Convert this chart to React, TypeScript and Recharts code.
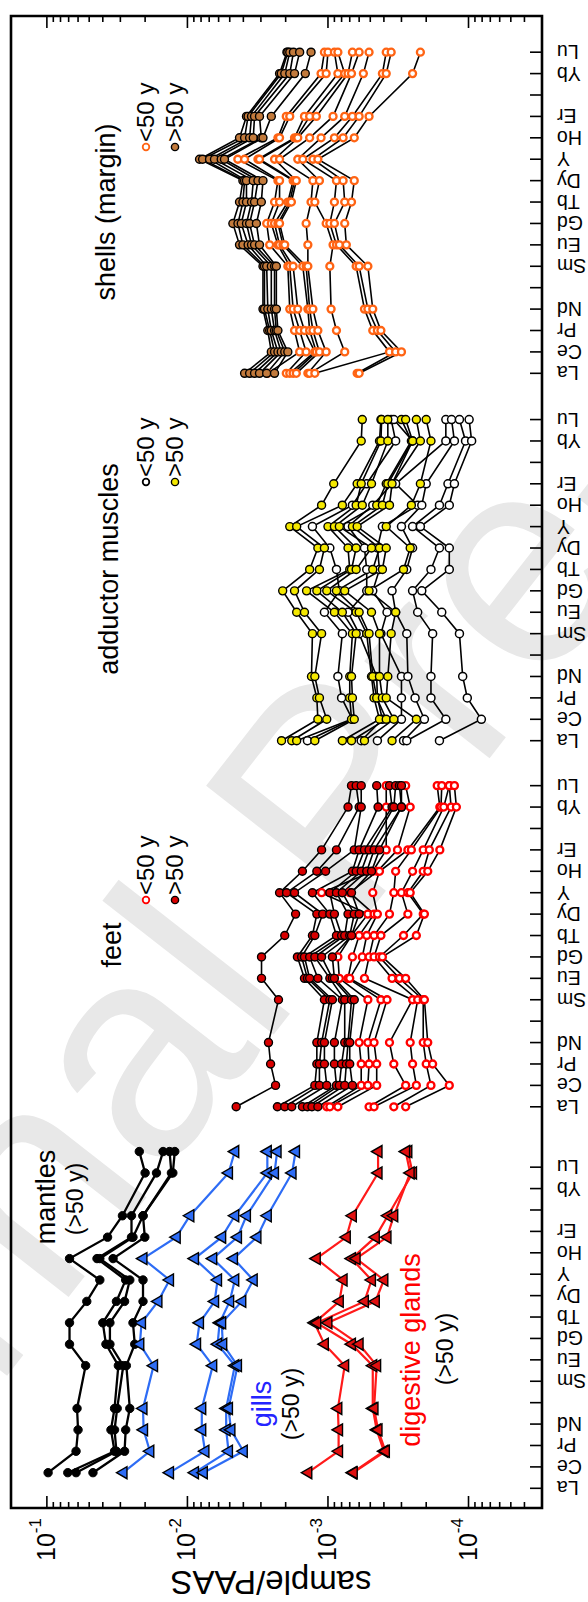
import React from 'react';
import { LineChart, Line, XAxis, YAxis, ReferenceArea } from 'recharts';

// The figure is an ordinary REE pattern plot turned a quarter turn
// counter-clockwise. It is drawn upright (1602 x 588) and the box is rotated.
const CHART_W = 1602;
const CHART_H = 588;
const FONT = '"Liberation Sans", Arial, Helvetica, sans-serif';

const elements = ['La', 'Ce', 'Pr', 'Nd', 'Pm', 'Sm', 'Eu', 'Gd', 'Tb', 'Dy', 'Y', 'Ho', 'Er', 'Tm', 'Yb', 'Lu'];
const measured = ['La', 'Ce', 'Pr', 'Nd', 'Sm', 'Eu', 'Gd', 'Tb', 'Dy', 'Y', 'Ho', 'Er', 'Yb', 'Lu'];

// x position of each panel's La tick (one unit per element slot)
const panelTicks = [0.92, 18.74, 35.84, 53.0];
// the first panel's points sit a bit right of its ticks
const panelData = [1.65, 18.74, 35.84, 53.0];
const xMax = 69.69;

const yDomain = [3e-5, 0.18];
const yMajor = [1e-1, 1e-2, 1e-3, 1e-4];
const yMajorExp = ['-1', '-2', '-3', '-4'];
const yMinor = [
  0.09, 0.08, 0.07, 0.06, 0.05, 0.04, 0.03, 0.02,
  0.009, 0.008, 0.007, 0.006, 0.005, 0.004, 0.003, 0.002,
  9e-4, 8e-4, 7e-4, 6e-4, 5e-4, 4e-4, 3e-4, 2e-4,
  9e-5, 8e-5, 7e-5, 6e-5, 5e-5, 4e-5,
];

// ---- values, in the order of `measured` ----
const mantles = [
  [0.098, 0.062, 0.06, 0.061, 0.053, 0.069, 0.069, 0.052, 0.042, 0.069, 0.037, 0.029, 0.02, 0.022],
  [0.071, 0.033, 0.035, 0.033, 0.031, 0.038, 0.04, 0.032, 0.0275, 0.044, 0.025, 0.025, 0.0166, 0.0149],
  [0.062, 0.032, 0.033, 0.0316, 0.0286, 0.0356, 0.0356, 0.028, 0.0257, 0.042, 0.0244, 0.0207, 0.013, 0.0134],
  [0.047, 0.028, 0.0275, 0.0257, 0.0272, 0.0237, 0.0244, 0.0207, 0.0207, 0.0338, 0.0201, 0.0207, 0.0127, 0.0123],
];
const gills = [
  [0.0287, 0.0185, 0.0205, 0.0207, 0.0174, 0.0218, 0.0212, 0.0162, 0.0134, 0.0207, 0.012, 0.0096, 0.0051, 0.0046],
  [0.0134, 0.0075, 0.0079, 0.0079, 0.0066, 0.0086, 0.0082, 0.0064, 0.0061, 0.0089, 0.0057, 0.0046, 0.0027, 0.0027],
  [0.0089, 0.0051, 0.0053, 0.0053, 0.0046, 0.0061, 0.0059, 0.005, 0.0046, 0.0066, 0.0044, 0.0038, 0.0024, 0.0023],
  [0.0077, 0.004, 0.0049, 0.0051, 0.0044, 0.0056, 0.0057, 0.0041, 0.0034, 0.0047, 0.0032, 0.0027, 0.0018, 0.0017],
];
const digestiveGlands = [
  [1.39e-3, 8.4e-4, 8.4e-4, 8.5e-4, 7.6e-4, 1.06e-3, 1.25e-3, 8.3e-4, 7.8e-4, 1.21e-3, 7.4e-4, 6.7e-4, 4.4e-4, 4.4e-4],
  [6.7e-4, 4.0e-4, 4.5e-4, 4.8e-4, 4.8e-4, 6.8e-4, 1.2e-3, 5.5e-4, 4.9e-4, 6.8e-4, 4.6e-4, 3.75e-4, 2.5e-4, 2.7e-4],
  [6.6e-4, 3.9e-4, 4.4e-4, 4.7e-4, 4.5e-4, 6.0e-4, 1.0e-3, 4.6e-4, 4.0e-4, 6.3e-4, 3.8e-4, 3.4e-4, 2.6e-4, 2.8e-4],
];
const feetOld = [
  [4.5e-3, 2.36e-3, 2.56e-3, 2.65e-3, 2.25e-3, 2.97e-3, 2.97e-3, 2.03e-3, 1.7e-3, 2.21e-3, 1.52e-3, 1.11e-3, 7.2e-4, 6.8e-4],
  [2.29e-3, 1.24e-3, 1.2e-3, 1.2e-3, 1.06e-3, 1.47e-3, 1.65e-3, 1.29e-3, 1.2e-3, 1.97e-3, 1.2e-3, 8.7e-4, 6.0e-4, 6.3e-4],
  [2.03e-3, 1.15e-3, 1.15e-3, 1.11e-3, 9.7e-4, 1.4e-3, 1.54e-3, 1.24e-3, 1.09e-3, 1.73e-3, 1.04e-3, 6.5e-4, 5.8e-4, 5.8e-4],
  [1.81e-3, 1.02e-3, 1.06e-3, 1.06e-3, 9.3e-4, 1.35e-3, 1.47e-3, 8.7e-4, 9.7e-4, 1.29e-3, 6.7e-4, 6.0e-4, 4.4e-4, 4.5e-4],
  [1.52e-3, 8.7e-4, 9.0e-4, 9.0e-4, 7.9e-4, 1.18e-3, 1.35e-3, 8.0e-4, 9.0e-4, 9.7e-4, 6.3e-4, 5.5e-4, 3.5e-4, 3.65e-4],
  [1.4e-3, 8.3e-4, 8.0e-4, 7.6e-4, 7.6e-4, 9.7e-4, 1.24e-3, 7.6e-4, 7.2e-4, 8.7e-4, 5.8e-4, 5.1e-4, 3.4e-4, 3.3e-4],
  [1.3e-3, 7.6e-4, 7.4e-4, 7.2e-4, 6.8e-4, 9.3e-4, 1.11e-3, 7.0e-4, 6.5e-4, 7.9e-4, 5.3e-4, 4.7e-4, 3.0e-4, 3.1e-4],
  [1.18e-3, 6.7e-4, 7.0e-4, 7.0e-4, 6.5e-4, 9.0e-4, 9.3e-4, 6.8e-4, 6.0e-4, 6.8e-4, 4.9e-4, 4.3e-4, 3.0e-4, 3.0e-4],
];
const feetYoung = [
  [1.02e-3, 5.8e-4, 5.8e-4, 6.0e-4, 5.2e-4, 8.3e-4, 8.5e-4, 6.8e-4, 5.2e-4, 1.11e-3, 4.8e-4, 3.85e-4, 3.85e-4, 3.85e-4],
  [9.7e-4, 5.2e-4, 5.1e-4, 5.2e-4, 4.2e-4, 7.2e-4, 6.7e-4, 6.0e-4, 4.7e-4, 7.0e-4, 4.45e-4, 3.2e-4, 2.6e-4, 2.8e-4],
  [8.5e-4, 4.5e-4, 4.5e-4, 4.7e-4, 3.8e-4, 7.0e-4, 5.7e-4, 5.3e-4, 4.45e-4, 4.8e-4, 4.3e-4, 2.7e-4, 1.6e-4, 1.67e-4],
  [5.1e-4, 2.8e-4, 3.4e-4, 3.65e-4, 2.5e-4, 5.5e-4, 5.1e-4, 4.7e-4, 3.65e-4, 3.4e-4, 3.3e-4, 2.55e-4, 1.57e-4, 1.55e-4],
  [4.7e-4, 2.35e-4, 2.5e-4, 2.6e-4, 2.3e-4, 3.5e-4, 4.7e-4, 4.2e-4, 2.7e-4, 3.0e-4, 2.5e-4, 2.1e-4, 1.5e-4, 1.37e-4],
  [3.4e-4, 1.85e-4, 2.0e-4, 2.1e-4, 2.1e-4, 3.1e-4, 4.3e-4, 2.9e-4, 2.1e-4, 2.7e-4, 2.1e-4, 1.9e-4, 1.33e-4, 1.37e-4],
  [2.8e-4, 1.37e-4, 1.8e-4, 1.95e-4, 2.06e-4, 2.8e-4, 4.1e-4, 2.35e-4, 2.06e-4, 2.6e-4, 1.95e-4, 1.6e-4, 1.22e-4, 1.26e-4],
];
const adductorOld = [
  [2.14e-3, 1.18e-3, 1.2e-3, 1.31e-3, 1.29e-3, 1.67e-3, 2.1e-3, 1.35e-3, 1.18e-3, 1.87e-3, 1.11e-3, 9.1e-4, 5.8e-4, 5.7e-4],
  [1.81e-3, 1.02e-3, 1.15e-3, 1.24e-3, 1.11e-3, 1.47e-3, 1.73e-3, 1.15e-3, 1.06e-3, 1.67e-3, 7.9e-4, 6.2e-4, 4.3e-4, 4.2e-4],
  [1.67e-3, 6.8e-4, 7.0e-4, 7.0e-4, 6.7e-4, 9.0e-4, 1.42e-3, 7.0e-4, 7.2e-4, 1.0e-3, 6.3e-4, 5.8e-4, 4.2e-4, 4.15e-4],
  [1.24e-3, 6.5e-4, 6.7e-4, 6.8e-4, 6.3e-4, 7.9e-4, 1.2e-3, 6.8e-4, 6.3e-4, 9.0e-4, 5.7e-4, 4.9e-4, 3.75e-4, 3.75e-4],
  [7.9e-4, 4.3e-4, 4.7e-4, 4.9e-4, 5.3e-4, 6.3e-4, 1.02e-3, 6.3e-4, 4.9e-4, 8.3e-4, 4.5e-4, 3.85e-4, 2.55e-4, 3.0e-4],
  [6.8e-4, 3.85e-4, 4.5e-4, 4.8e-4, 5.1e-4, 6.0e-4, 8.7e-4, 4.8e-4, 4.3e-4, 6.7e-4, 4.1e-4, 3.75e-4, 2.5e-4, 2.8e-4],
  [5.5e-4, 3.4e-4, 4.1e-4, 4.3e-4, 4.3e-4, 4.9e-4, 7.6e-4, 4.1e-4, 3.85e-4, 6.2e-4, 3.65e-4, 3.5e-4, 2.2e-4, 2.35e-4],
  [3.5e-4, 2.35e-4, 3.85e-4, 3.75e-4, 3.55e-4, 3.3e-4, 5.1e-4, 2.9e-4, 2.6e-4, 3.85e-4, 2.55e-4, 2.2e-4, 1.85e-4, 2.0e-4],
];
const adductorYoung = [
  [1.4e-3, 6.7e-4, 8.0e-4, 8.5e-4, 7.9e-4, 1.06e-3, 8.3e-4, 8.7e-4, 9.7e-4, 1.29e-3, 6.7e-4, 5.3e-4, 3.3e-4, 3.55e-4],
  [5.8e-4, 4.1e-4, 4.45e-4, 4.5e-4, 6.0e-4, 7.2e-4, 5.3e-4, 5.3e-4, 5.5e-4, 7.2e-4, 4.8e-4, 3.5e-4, 2.5e-4, 3.4e-4],
  [4.45e-4, 3.0e-4, 3.0e-4, 3.0e-4, 4.2e-4, 3.8e-4, 4.8e-4, 4.3e-4, 4.45e-4, 4.1e-4, 2.3e-4, 3.3e-4, 1.45e-4, 1.45e-4],
  [2.9e-4, 2.06e-4, 2.4e-4, 2.7e-4, 2.75e-4, 3.3e-4, 3.5e-4, 2.75e-4, 2.5e-4, 3.0e-4, 2.15e-4, 2.0e-4, 1.26e-4, 1.32e-4],
  [2.75e-4, 1.45e-4, 1.85e-4, 1.85e-4, 1.8e-4, 2.3e-4, 2.5e-4, 1.85e-4, 1.61e-4, 2.5e-4, 1.61e-4, 1.4e-4, 1.05e-4, 1.16e-4],
  [1.61e-4, 8.1e-5, 1.02e-4, 1.1e-4, 1.16e-4, 1.55e-4, 2.15e-4, 1.37e-4, 1.37e-4, 2.2e-4, 1.37e-4, 1.26e-4, 9.5e-5, 9.9e-5],
];
const shellsOld = [
  [3.92e-3, 2.53e-3, 2.68e-3, 2.9e-3, 2.9e-3, 4.26e-3, 4.75e-3, 4.26e-3, 4.03e-3, 8.2e-3, 4.26e-3, 3.8e-3, 2.21e-3, 1.96e-3],
  [3.61e-3, 2.4e-3, 2.6e-3, 2.83e-3, 2.83e-3, 4.03e-3, 4.37e-3, 4.03e-3, 3.92e-3, 7.8e-3, 3.92e-3, 3.7e-3, 2.15e-3, 1.93e-3],
  [3.33e-3, 2.27e-3, 2.53e-3, 2.68e-3, 2.73e-3, 3.7e-3, 4.14e-3, 3.8e-3, 3.8e-3, 6.96e-3, 3.61e-3, 3.5e-3, 2.03e-3, 1.87e-3],
  [3.07e-3, 2.15e-3, 2.4e-3, 2.53e-3, 2.53e-3, 3.5e-3, 3.8e-3, 3.5e-3, 3.4e-3, 6.42e-3, 3.4e-3, 3.33e-3, 1.87e-3, 1.76e-3],
  [2.73e-3, 2.03e-3, 2.33e-3, 2.4e-3, 2.4e-3, 3.33e-3, 3.61e-3, 3.33e-3, 3.15e-3, 5.75e-3, 2.98e-3, 3.07e-3, 1.73e-3, 1.59e-3],
  [2.4e-3, 1.93e-3, 2.27e-3, 2.33e-3, 2.33e-3, 3.07e-3, 3.23e-3, 2.98e-3, 2.9e-3, 5.45e-3, 2.9e-3, 2.53e-3, 1.45e-3, 1.32e-3],
];
const shellsYoung = [
  [2.68e-3, 1.59e-3, 1.73e-3, 1.87e-3, 1.93e-3, 2.6e-3, 2.73e-3, 2.4e-3, 2.27e-3, 4.38e-3, 2.27e-3, 1.98e-3, 1.12e-3, 1.06e-3],
  [1.98e-3, 1.43e-3, 1.59e-3, 1.77e-3, 1.87e-3, 2.27e-3, 2.53e-3, 2.21e-3, 2.21e-3, 3.92e-3, 2.21e-3, 1.87e-3, 1.03e-3, 1.0e-3],
  [1.87e-3, 1.24e-3, 1.47e-3, 1.64e-3, 1.77e-3, 2.21e-3, 2.4e-3, 1.93e-3, 1.77e-3, 3.15e-3, 1.73e-3, 1.47e-3, 8.5e-4, 9.0e-4],
  [1.77e-3, 1.21e-3, 1.35e-3, 1.39e-3, 1.51e-3, 2.09e-3, 2.27e-3, 1.87e-3, 1.73e-3, 3.07e-3, 1.68e-3, 1.35e-3, 7.6e-4, 8.5e-4],
  [1.68e-3, 1.15e-3, 1.28e-3, 1.35e-3, 1.43e-3, 2.03e-3, 2.21e-3, 1.82e-3, 1.68e-3, 2.4e-3, 1.64e-3, 1.21e-3, 7.2e-4, 6.7e-4],
  [1.39e-3, 1.03e-3, 1.18e-3, 1.28e-3, 1.39e-3, 1.39e-3, 1.43e-3, 1.32e-3, 1.28e-3, 2.21e-3, 1.35e-3, 9.2e-4, 6.8e-4, 6.0e-4],
  [1.35e-3, 7.6e-4, 8.7e-4, 9.5e-4, 9.7e-4, 9.2e-4, 1.03e-3, 1.24e-3, 1.15e-3, 1.64e-3, 1.12e-3, 7.6e-4, 5.6e-4, 5.1e-4],
  [1.24e-3, 3.65e-4, 4.8e-4, 5.5e-4, 6.3e-4, 8.7e-4, 9.7e-4, 9.0e-4, 8.7e-4, 1.51e-3, 9.0e-4, 6.7e-4, 4.1e-4, 3.85e-4],
  [6.2e-4, 3.3e-4, 4.45e-4, 5.2e-4, 6.0e-4, 8.3e-4, 9.0e-4, 7.6e-4, 7.8e-4, 1.28e-3, 7.8e-4, 6.0e-4, 3.85e-4, 3.55e-4],
  [6.0e-4, 3.0e-4, 4.2e-4, 4.8e-4, 5.2e-4, 7.4e-4, 7.6e-4, 6.8e-4, 6.5e-4, 1.18e-3, 6.5e-4, 5.1e-4, 2.5e-4, 2.2e-4],
];

const xTicks = panelTicks.flatMap((s) => elements.map((_, i) => s + i));
const yTicks = [...yMajor, ...yMinor];

const rows = (start: number, values: number[]) =>
  values.map((v, i) => ({ x: start + elements.indexOf(measured[i]), v }));

type Mark = { shape: 'circle' | 'triangle'; fill: string; edge: string; edgeWidth: number; r: number };
type Group = { name: string; sets: number[][]; start: number; stroke: string; width: number; mark: Mark };

const groups: Group[] = [
  { name: 'mantles', sets: mantles, start: panelData[0], stroke: '#000', width: 2.3, mark: { shape: 'circle', fill: '#000', edge: '#000', edgeWidth: 1, r: 4.2 } },
  { name: 'gills', sets: gills, start: panelData[0], stroke: '#2d6cf5', width: 2.2, mark: { shape: 'triangle', fill: '#2d6cf5', edge: '#000', edgeWidth: 1.4, r: 6 } },
  { name: 'dg', sets: digestiveGlands, start: panelData[0], stroke: '#ff1a1a', width: 2.2, mark: { shape: 'triangle', fill: '#e01010', edge: '#000', edgeWidth: 1.4, r: 6 } },
  { name: 'feetY', sets: feetYoung, start: panelData[1], stroke: '#000', width: 1.6, mark: { shape: 'circle', fill: '#fff', edge: '#ff0000', edgeWidth: 2.3, r: 3.5 } },
  { name: 'feetO', sets: feetOld, start: panelData[1], stroke: '#000', width: 1.6, mark: { shape: 'circle', fill: '#d80000', edge: '#000', edgeWidth: 1.4, r: 4 } },
  { name: 'addY', sets: adductorYoung, start: panelData[2], stroke: '#000', width: 1.6, mark: { shape: 'circle', fill: '#fff', edge: '#000', edgeWidth: 1.5, r: 4 } },
  { name: 'addO', sets: adductorOld, start: panelData[2], stroke: '#000', width: 1.6, mark: { shape: 'circle', fill: '#f4e800', edge: '#000', edgeWidth: 1.4, r: 4 } },
  { name: 'shY', sets: shellsYoung, start: panelData[3], stroke: '#000', width: 1.6, mark: { shape: 'circle', fill: '#fff', edge: '#ff6414', edgeWidth: 2.3, r: 3.5 } },
  { name: 'shO', sets: shellsOld, start: panelData[3], stroke: '#000', width: 1.6, mark: { shape: 'circle', fill: '#c27a3c', edge: '#000', edgeWidth: 1.4, r: 4 } },
];

const triangleDot = (m: Mark) => (p: any) => {
  const { cx, cy, index } = p;
  if (cx == null || cy == null) return <g key={`t${index}`} />;
  const s = m.r;
  return (
    <polygon
      key={`t${index}`}
      points={`${cx},${cy - s * 1.1} ${cx - s},${cy + s * 0.65} ${cx + s},${cy + s * 0.65}`}
      fill={m.fill}
      stroke={m.edge}
      strokeWidth={m.edgeWidth}
    />
  );
};

const isMajor = (v: number) => yMajor.findIndex((m) => Math.abs(m - v) / m < 1e-6);

const LeftTick = (props: any) => {
  const { x, y, payload } = props;
  const k = isMajor(payload.value);
  return (
    <g>
      <line x1={x} y1={y} x2={x + (k >= 0 ? 12 : 6)} y2={y} stroke="#000" strokeWidth={1.6} />
      {k >= 0 && (
        <text x={x - 10} y={y} textAnchor="end" fontFamily={FONT} fill="#000">
          <tspan fontSize={25} dy={8}>10</tspan>
          <tspan fontSize={17} dy={-14}>{yMajorExp[k]}</tspan>
        </text>
      )}
    </g>
  );
};

const RightTick = (props: any) => {
  const { x, y, payload } = props;
  const k = isMajor(payload.value);
  return <line x1={x} y1={y} x2={x - (k >= 0 ? 12 : 6)} y2={y} stroke="#000" strokeWidth={1.6} />;
};

const ElementTick = (props: any) => {
  const { x, y, index } = props;
  const label = elements[index % elements.length];
  const show = label !== 'Pm' && label !== 'Tm';
  return (
    <g>
      <line x1={x} y1={y} x2={x} y2={y - 12} stroke="#000" strokeWidth={1.6} />
      {show && (
        <text transform={`translate(${x + 7},${y + 15}) rotate(-90)`} textAnchor="end" fontSize={19.5} fontFamily={FONT} fill="#000">
          {label}
        </text>
      )}
    </g>
  );
};

// panel captions, in the upright drawing's pixels
const captions = [
  { text: 'mantles', x: 405, y: 55, size: 27, color: '#000' },
  { text: '(>50 y)', x: 403, y: 83, size: 23, color: '#000' },
  { text: 'gills', x: 198, y: 271, size: 27, color: '#2424ff' },
  { text: '(>50 y)', x: 198, y: 299, size: 23, color: '#000' },
  { text: 'digestive glands', x: 252, y: 420, size: 27, color: '#ff0000' },
  { text: '(>50 y)', x: 253, y: 453, size: 23, color: '#000' },
  { text: 'feet', x: 657, y: 121, size: 27, color: '#000' },
  { text: 'adductor muscles', x: 1033, y: 118, size: 27, color: '#000' },
  { text: 'shells (margin)', x: 1390, y: 115, size: 27, color: '#000' },
];
const legends = [
  { x: 702, young: { fill: '#fff', edge: '#ff0000' }, old: { fill: '#d80000', edge: '#000' } },
  { x: 1120, young: { fill: '#fff', edge: '#000' }, old: { fill: '#f4e800', edge: '#000' } },
  { x: 1455, young: { fill: '#fff', edge: '#ff6414' }, old: { fill: '#c27a3c', edge: '#000' } },
];

const Overlay = () => (
  <svg width={CHART_W} height={CHART_H} style={{ position: 'absolute', left: 0, top: 0, pointerEvents: 'none' }}>
    <text transform="translate(31,271) rotate(-90)" textAnchor="middle" fontSize={33} fontFamily={FONT} fill="#000">
      sample/PAAS
    </text>
    {captions.map((c, i) => (
      <text key={i} x={c.x} y={c.y} textAnchor="middle" fontSize={c.size} fontFamily={FONT} fill={c.color}>
        {c.text}
      </text>
    ))}
    {legends.map((l, i) => (
      <g key={i} fontFamily={FONT} fontSize={24} fill="#000">
        <circle cx={l.x} cy={146} r={3.3} fill={l.young.fill} stroke={l.young.edge} strokeWidth={1.8} />
        <text x={l.x + 5} y={154}>{'<50 y'}</text>
        <circle cx={l.x} cy={175} r={3.6} fill={l.old.fill} stroke={l.old.edge} strokeWidth={1.4} />
        <text x={l.x + 5} y={183}>{'>50 y'}</text>
      </g>
    ))}
  </svg>
);

const Watermark = () => (
  <svg width={588} height={1602} style={{ position: 'absolute', left: 0, top: 0 }}>
    <text transform="translate(410,860) rotate(-52)" textAnchor="middle" fontSize={300} fontFamily={FONT} fill="#e8e8e8">
      Journal Pre-proof
    </text>
  </svg>
);

const App = () => {
  return (
    <div>
      <style>{'body{margin:0;overflow:hidden;background:#fff}'}</style>
      <Watermark />
      <div
        style={{
          position: 'absolute',
          left: 0,
          top: 0,
          width: CHART_W,
          height: CHART_H,
          transformOrigin: '0 0',
          transform: `translateY(${CHART_W}px) rotate(-90deg)`,
        }}
      >
        <LineChart width={CHART_W} height={CHART_H} margin={{ top: 11, right: 0, bottom: 0, left: 0 }}>
          <XAxis
            type="number"
            dataKey="x"
            domain={[0, xMax]}
            ticks={xTicks}
            interval={0}
            allowDataOverflow
            height={46}
            axisLine={false}
            tickLine={false}
            tickSize={0}
            tickMargin={0}
            tick={<ElementTick />}
          />
          <YAxis
            yAxisId="l"
            type="number"
            scale="log"
            domain={yDomain}
            allowDataOverflow
            ticks={yTicks}
            interval={0}
            width={94}
            axisLine={false}
            tickLine={false}
            tickSize={0}
            tickMargin={0}
            tick={<LeftTick />}
          />
          <YAxis
            yAxisId="r"
            orientation="right"
            type="number"
            scale="log"
            domain={yDomain}
            allowDataOverflow
            ticks={yTicks}
            interval={0}
            width={16}
            axisLine={false}
            tickLine={false}
            tickSize={0}
            tickMargin={0}
            tick={<RightTick />}
          />
          {groups.flatMap((g) =>
            g.sets.map((vals, i) => (
              <Line
                key={`${g.name}-${i}`}
                yAxisId="l"
                data={rows(g.start, vals)}
                dataKey="v"
                type="linear"
                stroke={g.stroke}
                strokeWidth={g.width}
                dot={
                  g.mark.shape === 'triangle'
                    ? triangleDot(g.mark)
                    : { r: g.mark.r, fill: g.mark.fill, stroke: g.mark.edge, strokeWidth: g.mark.edgeWidth }
                }
                activeDot={false}
                isAnimationActive={false}
              />
            ))
          )}
          <ReferenceArea
            yAxisId="l"
            x1={0}
            x2={xMax}
            y1={yDomain[0]}
            y2={yDomain[1]}
            fill="none"
            fillOpacity={0}
            stroke="#000"
            strokeWidth={2.6}
            ifOverflow="visible"
          />
        </LineChart>
        <Overlay />
      </div>
    </div>
  );
};

export default App;
